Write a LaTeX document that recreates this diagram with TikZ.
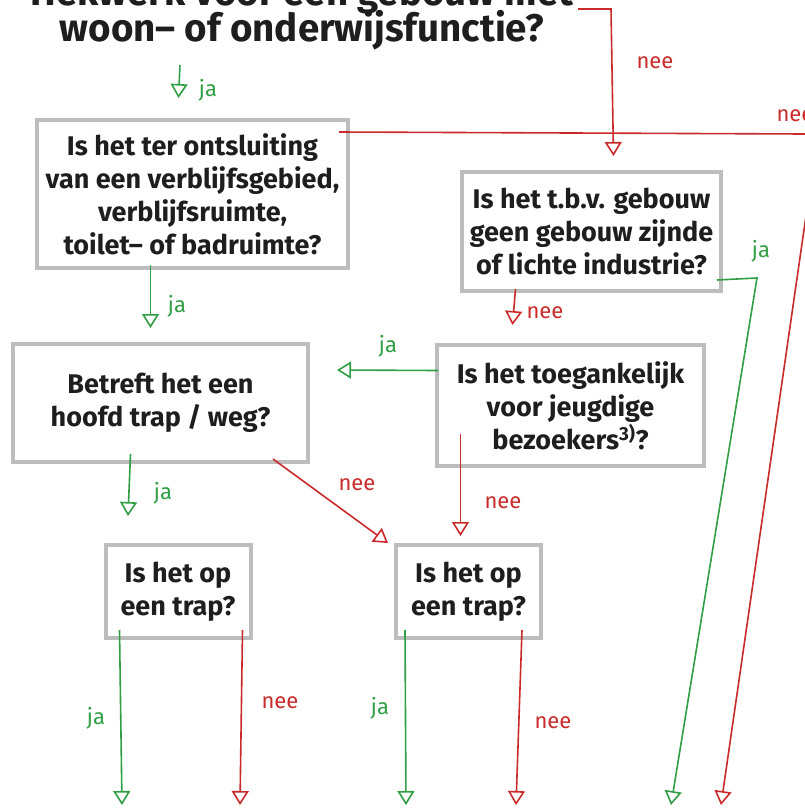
\documentclass[tikz,border=0pt]{standalone}
\usepackage{fontspec}
\setmainfont{Fira Sans}
\usetikzlibrary{arrows.meta,calc,positioning}
\definecolor{jagreen}{HTML}{2F9E44}
\definecolor{neered}{HTML}{C92A2A}
\definecolor{boxgray}{HTML}{BDBDBD}
\definecolor{ink}{HTML}{1E1E1E}

\begin{document}
\begin{tikzpicture}[x=1pt,y=-1pt,
    question/.style={draw=boxgray, line width=4pt, align=center, inner sep=0pt,
      text=ink, font=\fontsize{27}{33}\selectfont\bfseries},
    jaline/.style={draw=jagreen, line width=1.6pt, -{Triangle[open,length=14pt,width=17pt]}},
    neeline/.style={draw=neered, line width=1.6pt, -{Triangle[open,length=14pt,width=17pt]}},
    jalabel/.style={text=jagreen, font=\fontsize{22}{22}\selectfont},
    neelabel/.style={text=neered, font=\fontsize{22}{22}\selectfont}]
    \useasboundingbox (0,0) rectangle (804,812);

    % Title (top line cut off by the page edge)
    \node[anchor=base, text=ink, font=\fontsize{38.5}{38.5}\selectfont\bfseries] (titletop) at (302,5) {Hekwerk voor een gebouw met};
    \node[anchor=base, text=ink, font=\fontsize{38.5}{38.5}\selectfont\bfseries] (title) at (302,41) {woon– of onderwijsfunctie?};

    % Questions
    \node[question, minimum width=311pt, minimum height=148pt] (ontsluiting) at (192.5,194)
        {Is het ter ontsluiting\\van een verblijfsgebied,\\verblijfsruimte,\\toilet– of badruimte?};
    \node[question, minimum width=259pt, minimum height=119pt] (industrie) at (591.5,231.5)
        {Is het t.b.v. gebouw\\geen gebouw zijnde\\of lichte industrie?};
    \node[question, minimum width=295pt, minimum height=118pt] (hoofdtrap) at (160.5,403)
        {Betreft het een\\hoofd trap / weg?};
    \node[question, minimum width=267pt, minimum height=121pt] (jeugd) at (570.5,405.5)
        {Is het toegankelijk\\voor jeugdige\\bezoekers\textsuperscript{3)}?};
    \node[question, minimum width=145pt, minimum height=93pt] (trapja) at (178,591.5)
        {Is het op\\een trap?};
    \node[question, minimum width=145pt, minimum height=93pt] (trapnee) at (468.5,591.5)
        {Is het op\\een trap?};

    % Free ends
    \coordinate (t1) at (578,9);
    \coordinate (t2) at (611,9);
    \coordinate (j0) at (180,65);
    \coordinate (e1) at (806,134);
    \coordinate (g1) at (757,278);
    \coordinate (g2) at (671,805);
    \coordinate (r1) at (806,216);
    \coordinate (r2) at (721,805);
    \coordinate (b1) at (122,805);
    \coordinate (b2) at (240,805);
    \coordinate (b3) at (406,805);
    \coordinate (b4) at (516,805);

    % Connectors
    \draw[neeline] (t1) -- (t2) -- ($(industrie.north)+(22,-14)$);
    \draw[jaline] (j0) -- ($(ontsluiting.north)+(-14,-20)$);
    \draw[draw=neered, line width=1.6pt] ($(ontsluiting.north east)+(-11,14)$) -- (e1);
    \draw[jaline] ($(ontsluiting.south)+(-42,-5)$) -- ($(hoofdtrap.north)+(-10,-14)$);
    \draw[neeline] ($(industrie.south)+(-76,-4)$) -- ($(jeugd.north)+(-58,-18)$);
    \draw[jaline] ($(industrie.south east)+(-6,-13)$) -- (g1) -- (g2);
    \draw[neeline] (r1) -- (r2);
    \draw[jaline] ($(jeugd.west)+(3,-35)$) -- ($(hoofdtrap.east)+(27,-33)$);
    \draw[neeline] ($(jeugd.south)+(-110,-34)$) -- ($(trapnee.north)+(-8,-7)$);
    \draw[jaline] ($(hoofdtrap.south)+(-30,-10)$) -- ($(trapja.north)+(-50,-27)$);
    \draw[neeline] ($(hoofdtrap.south east)+(-37,-5)$) -- ($(trapnee.north west)+(-6,0)$);
    \draw[jaline] ($(trapja.south west)+(16,-10)$) -- (b1);
    \draw[neeline] ($(trapja.south east)+(-10,-10)$) -- (b2);
    \draw[jaline] ($(trapnee.south west)+(11,-10)$) -- (b3);
    \draw[neeline] ($(trapnee.south east)+(-21,-10)$) -- (b4);

    % Labels
    \node[jalabel] (lja1) at (208,90) {ja};
    \node[neelabel] (lnee1) at (655,63) {nee};
    \node[neelabel] (lnee2) at (795,116) {nee};
    \node[jalabel] (lja2) at (177,306) {ja};
    \node[neelabel] (lnee3) at (545,313) {nee};
    \node[jalabel] (lja3) at (761,251) {ja};
    \node[jalabel] (lja4) at (388,346) {ja};
    \node[neelabel] (lnee4) at (503,503) {nee};
    \node[jalabel] (lja5) at (163,493) {ja};
    \node[neelabel] (lnee5) at (357,485) {nee};
    \node[jalabel] (lja6) at (96,718) {ja};
    \node[neelabel] (lnee6) at (280,703) {nee};
    \node[jalabel] (lja7) at (380,708) {ja};
    \node[neelabel] (lnee7) at (553,723) {nee};
\end{tikzpicture}
\end{document}
